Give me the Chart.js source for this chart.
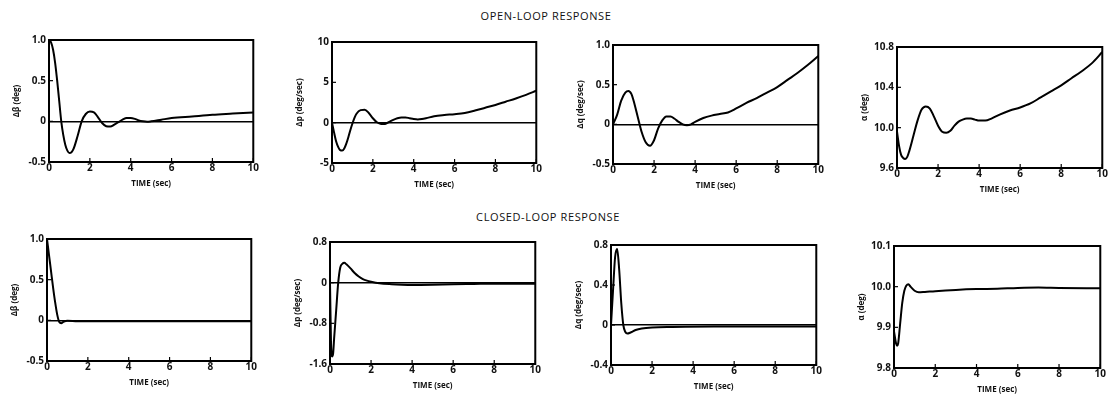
<!DOCTYPE html>
<html>
<head>
<meta charset="utf-8">
<script src="https://cdn.jsdelivr.net/npm/chart.js@4.4.1/dist/chart.umd.min.js"></script>
<style>
  body { margin: 0; background: #fff; width: 1108px; height: 395px; position: relative; overflow: hidden; font-family: 'Open Sans', 'DejaVu Sans', sans-serif; }
  .title { position: absolute; left: 0; width: 1108px; text-align: center; font-size: 11px; letter-spacing: 0.6px; color: #111; }
  canvas { position: absolute; }
</style>
</head>
<body>
<div class="title" style="top:8px; left:-8px">OPEN-LOOP RESPONSE</div>
<div class="title" style="top:209px; left:-6px">CLOSED-LOOP RESPONSE</div>

<canvas id="ol-beta"></canvas>
<canvas id="ol-p"></canvas>
<canvas id="ol-q"></canvas>
<canvas id="ol-alpha"></canvas>
<canvas id="cl-beta"></canvas>
<canvas id="cl-p"></canvas>
<canvas id="cl-q"></canvas>
<canvas id="cl-alpha"></canvas>

<script>
// time axis ticks (all panels)
const timeTicks = [0, 2, 4, 6, 8, 10];
const timeTitle = 'TIME (sec)';

// open-loop sideslip
const olBetaT = [0, 0.1, 0.2, 0.3, 0.4, 0.5, 0.6, 0.7, 0.8, 0.9, 1.0, 1.1, 1.2, 1.4, 1.6, 1.8, 2.0, 2.2, 2.4, 2.6, 2.8, 3.0, 3.2, 3.4, 3.6, 3.8, 4.0, 4.2, 4.4, 4.6, 4.8, 5.0, 5.5, 6, 7, 8, 9, 10];
const olBetaV = [1.0, 0.97, 0.88, 0.72, 0.5, 0.25, 0.0, -0.17, -0.29, -0.36, -0.39, -0.38, -0.34, -0.18, 0.0, 0.09, 0.12, 0.11, 0.05, -0.02, -0.06, -0.065, -0.04, -0.01, 0.02, 0.04, 0.04, 0.03, 0.01, 0.0, -0.005, 0.0, 0.02, 0.04, 0.06, 0.08, 0.095, 0.11];

// open-loop roll rate
const olPT = [0, 0.1, 0.2, 0.3, 0.4, 0.5, 0.6, 0.7, 0.8, 0.9, 1.0, 1.1, 1.2, 1.4, 1.6, 1.8, 2.0, 2.2, 2.4, 2.6, 2.8, 3.0, 3.2, 3.4, 3.6, 3.8, 4.0, 4.2, 4.4, 4.6, 5.0, 5.5, 6.0, 6.5, 7.0, 7.5, 8.0, 8.5, 9.0, 9.5, 10];
const olPV = [0, -1.2, -2.3, -3.0, -3.4, -3.45, -3.2, -2.6, -1.8, -0.9, -0.1, 0.6, 1.1, 1.55, 1.6, 1.2, 0.55, 0.05, -0.15, -0.15, 0.1, 0.35, 0.55, 0.65, 0.65, 0.55, 0.45, 0.4, 0.45, 0.55, 0.8, 0.95, 1.05, 1.2, 1.5, 1.85, 2.2, 2.6, 3.0, 3.45, 3.95];

// open-loop pitch rate
const olQT = [0, 0.2, 0.4, 0.6, 0.75, 0.9, 1.0, 1.2, 1.4, 1.6, 1.8, 2.0, 2.2, 2.4, 2.6, 2.8, 3.0, 3.2, 3.4, 3.6, 3.8, 4.0, 4.4, 4.8, 5.2, 5.6, 6.0, 6.5, 7.0, 7.5, 8.0, 8.5, 9.0, 9.5, 10];
const olQV = [0, 0.12, 0.3, 0.4, 0.42, 0.38, 0.3, 0.1, -0.1, -0.23, -0.27, -0.2, -0.05, 0.05, 0.1, 0.1, 0.07, 0.03, 0.0, -0.01, 0.0, 0.03, 0.08, 0.11, 0.13, 0.15, 0.2, 0.27, 0.33, 0.4, 0.47, 0.56, 0.65, 0.75, 0.86];

// open-loop angle of attack
const olAlphaT = [0, 0.1, 0.2, 0.3, 0.4, 0.5, 0.6, 0.8, 1.0, 1.2, 1.4, 1.6, 1.8, 2.0, 2.2, 2.4, 2.6, 2.8, 3.0, 3.2, 3.4, 3.6, 3.8, 4.0, 4.3, 4.6, 5.0, 5.5, 6.0, 6.5, 7.0, 7.5, 8.0, 8.5, 9.0, 9.5, 10];
const olAlphaV = [9.96, 9.82, 9.73, 9.7, 9.69, 9.71, 9.77, 9.92, 10.07, 10.18, 10.21, 10.19, 10.11, 10.02, 9.96, 9.95, 9.97, 10.02, 10.06, 10.08, 10.09, 10.09, 10.08, 10.07, 10.07, 10.09, 10.13, 10.17, 10.2, 10.24, 10.3, 10.36, 10.42, 10.49, 10.56, 10.64, 10.75];

// closed-loop sideslip
const clBetaT = [0, 0.1, 0.2, 0.3, 0.4, 0.5, 0.6, 0.7, 0.8, 1.0, 1.5, 2, 3, 10];
const clBetaV = [1.0, 0.8, 0.6, 0.4, 0.22, 0.07, -0.02, -0.035, -0.02, -0.005, -0.01, -0.01, -0.01, -0.01];

// closed-loop roll rate
const clPT = [0, 0.05, 0.1, 0.15, 0.2, 0.3, 0.4, 0.5, 0.6, 0.7, 0.8, 1.0, 1.2, 1.4, 1.6, 1.8, 2.0, 2.4, 3.0, 3.5, 4.0, 5.0, 6.0, 7.0, 8.0, 10];
const clPV = [0, -1.2, -1.45, -1.4, -1.1, -0.55, 0.0, 0.3, 0.37, 0.39, 0.36, 0.28, 0.19, 0.12, 0.07, 0.04, 0.02, -0.01, -0.03, -0.04, -0.045, -0.04, -0.03, -0.025, -0.02, -0.02];

// closed-loop pitch rate
const clQT = [0, 0.1, 0.2, 0.3, 0.4, 0.5, 0.6, 0.7, 0.8, 0.9, 1.0, 1.2, 1.5, 2.0, 3.0, 5, 10];
const clQV = [0, 0.35, 0.68, 0.76, 0.55, 0.22, 0.0, -0.07, -0.085, -0.08, -0.07, -0.05, -0.035, -0.025, -0.02, -0.015, -0.015];

// closed-loop angle of attack
const clAlphaT = [0, 0.1, 0.15, 0.2, 0.3, 0.4, 0.5, 0.6, 0.7, 0.8, 1.0, 1.2, 1.5, 2, 3, 4, 5, 6, 7, 8, 10];
const clAlphaV = [9.89, 9.86, 9.855, 9.86, 9.91, 9.96, 9.99, 10.003, 10.006, 10.0, 9.99, 9.986, 9.987, 9.989, 9.992, 9.994, 9.995, 9.997, 9.998, 9.997, 9.996];

// y ticks and labels
const betaTicks = [-0.5, 0, 0.5, 1.0];
const betaLabels = ['-0.5', '0', '0.5', '1.0'];
const olPTicks = [-5, 0, 5, 10];
const olPLabels = ['-5', '0', '5', '10'];
const olQTicks = [-0.5, 0, 0.5, 1.0];
const olQLabels = ['-0.5', '0', '0.5', '1.0'];
const olAlphaTicks = [9.6, 10.0, 10.4, 10.8];
const olAlphaLabels = ['9.6', '10.0', '10.4', '10.8'];
const clPTicks = [-1.6, -0.8, 0, 0.8];
const clPLabels = ['-1.6', '-0.8', '0', '0.8'];
const clQTicks = [-0.4, 0, 0.4, 0.8];
const clQLabels = ['-0.4', '0', '0.4', '0.8'];
const clAlphaTicks = [9.8, 9.9, 10.0, 10.1];
const clAlphaLabels = ['9.8', '9.9', '10.0', '10.1'];

const panels = [
  { id: 'ol-beta', t: olBetaT, v: olBetaV, ticks: betaTicks, labels: betaLabels, title: 'Δβ (deg)', zero: true },
  { id: 'ol-p', t: olPT, v: olPV, ticks: olPTicks, labels: olPLabels, title: 'Δp (deg/sec)', zero: true },
  { id: 'ol-q', t: olQT, v: olQV, ticks: olQTicks, labels: olQLabels, title: 'Δq (deg/sec)', zero: true },
  { id: 'ol-alpha', t: olAlphaT, v: olAlphaV, ticks: olAlphaTicks, labels: olAlphaLabels, title: 'α (deg)', zero: false },
  { id: 'cl-beta', t: clBetaT, v: clBetaV, ticks: betaTicks, labels: betaLabels, title: 'Δβ (deg)', zero: true },
  { id: 'cl-p', t: clPT, v: clPV, ticks: clPTicks, labels: clPLabels, title: 'Δp (deg/sec)', zero: true },
  { id: 'cl-q', t: clQT, v: clQV, ticks: clQTicks, labels: clQLabels, title: 'Δq (deg/sec)', zero: true },
  { id: 'cl-alpha', t: clAlphaT, v: clAlphaV, ticks: clAlphaTicks, labels: clAlphaLabels, title: 'α (deg)', zero: false }
];

// plot boxes on the page: left, top, right, bottom
const boxes = {
  'ol-beta': [49, 37, 256, 162],
  'ol-p': [332, 39, 539, 163],
  'ol-q': [613, 42, 821, 164],
  'ol-alpha': [897, 44, 1105, 168],
  'cl-beta': [47, 236, 254, 361],
  'cl-p': [330, 239, 538, 364],
  'cl-q': [611, 242, 819, 365],
  'cl-alpha': [894, 243, 1103, 368]
};

const AXIS_W = 37;
const AXIS_H = 27;
const PAD_TOP = 6;
const PAD_RIGHT = 3;

// box frame + inward tick marks
const framePlugin = {
  id: 'frame',
  afterDatasetsDraw(chart) {
    const { ctx, chartArea: a, scales } = chart;
    ctx.save();
    ctx.strokeStyle = '#000';
    ctx.lineWidth = 2;
    ctx.strokeRect(a.left, a.top, a.right - a.left, a.bottom - a.top);
    ctx.lineWidth = 1.2;
    scales.x.ticks.forEach(t => {
      const px = scales.x.getPixelForValue(t.value);
      ctx.beginPath();
      ctx.moveTo(px, a.bottom);
      ctx.lineTo(px, a.bottom - 4);
      ctx.stroke();
    });
    scales.y.ticks.forEach(t => {
      const py = scales.y.getPixelForValue(t.value);
      ctx.beginPath();
      ctx.moveTo(a.left, py);
      ctx.lineTo(a.left + 4, py);
      ctx.stroke();
    });
    ctx.restore();
  }
};

const tickFont = { family: "'Open Sans', 'DejaVu Sans', sans-serif", size: 10, weight: 'bold' };
const titleFont = { family: "'Open Sans', 'DejaVu Sans', sans-serif", size: 8, weight: 'bold' };

panels.forEach(p => {
  const [L, T, R, B] = boxes[p.id];
  const canvas = document.getElementById(p.id);
  const w = (R - L) + AXIS_W + PAD_RIGHT;
  const h = (B - T) + PAD_TOP + AXIS_H;
  canvas.width = w;
  canvas.height = h;
  canvas.style.left = (L - AXIS_W) + 'px';
  canvas.style.top = (T - PAD_TOP) + 'px';

  new Chart(canvas, {
    type: 'line',
    data: {
      datasets: [{
        data: p.t.map((x, i) => ({ x: x, y: p.v[i] })),
        borderColor: '#000',
        borderWidth: 2,
        pointRadius: 0,
        cubicInterpolationMode: 'monotone',
        fill: false,
        clip: 4
      }]
    },
    options: {
      responsive: false,
      animation: false,
      layout: { padding: { top: PAD_TOP, right: PAD_RIGHT, left: 0, bottom: 0 } },
      plugins: { legend: { display: false }, tooltip: { enabled: false } },
      scales: {
        x: {
          type: 'linear',
          min: 0,
          max: 10,
          afterBuildTicks: s => { s.ticks = timeTicks.map(v => ({ value: v })); },
          afterFit: s => { s.height = AXIS_H; },
          grid: { display: false, drawTicks: false },
          border: { display: false },
          ticks: { color: '#111', font: tickFont, padding: 0, maxRotation: 0 },
          title: { display: true, text: timeTitle, color: '#111', font: titleFont, padding: 0 }
        },
        y: {
          type: 'linear',
          min: p.ticks[0],
          max: p.ticks[p.ticks.length - 1],
          afterBuildTicks: s => { s.ticks = p.ticks.map(v => ({ value: v })); },
          afterFit: s => { s.width = AXIS_W; },
          grid: {
            drawTicks: false,
            lineWidth: 1.5,
            color: c => (p.zero && c.tick && c.tick.value === 0) ? '#000' : 'rgba(0,0,0,0)'
          },
          border: { display: false },
          ticks: {
            color: '#111',
            font: tickFont,
            padding: 3,
            callback: (val, i) => p.labels[i]
          },
          title: { display: true, text: p.title, color: '#111', font: titleFont, padding: 0 }
        }
      }
    },
    plugins: [framePlugin]
  });
});
</script>
</body>
</html>
